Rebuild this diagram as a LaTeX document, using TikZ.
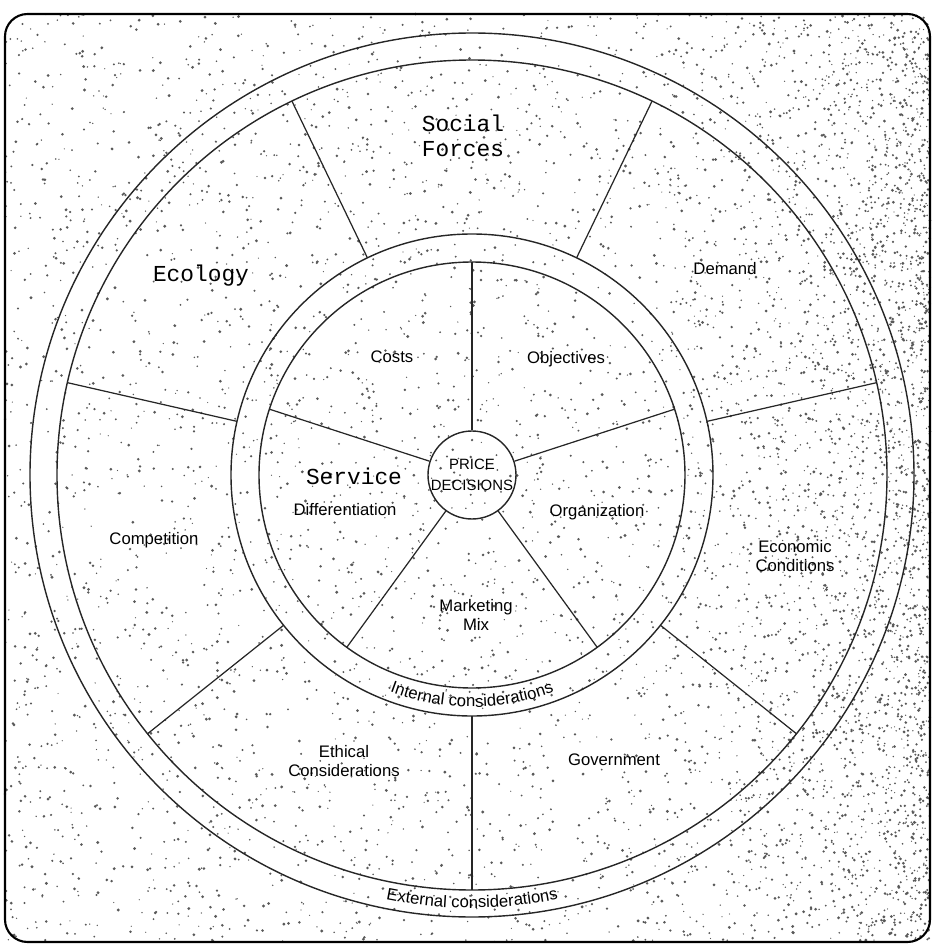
\documentclass[tikz,border=0pt]{standalone}
\usepackage{fontspec}
\setmainfont{Liberation Sans}
\setmonofont{Liberation Mono}
\usetikzlibrary{decorations.text}

\tikzset{
  ring/.style={draw=black!85, line width=0.8pt},
  spoke/.style={draw=black!85, line width=0.7pt},
  speck/.style={fill=black!65},
  lbl/.style={font=\fontsize{9.5}{11}\selectfont, align=center, inner sep=1pt},
  typelbl/.style={font=\ttfamily\fontsize{13}{14.5}\selectfont, align=center, inner sep=1pt},
  bandtext/.style={decorate, decoration={text along path, text align=center,
      text={|\fontsize{9.5}{11}\selectfont|#1}}},
}

\begin{document}
\begin{tikzpicture}[x=0.02cm, y=0.02cm]
    \useasboundingbox (-472,-472) rectangle (464,475);

    % Scan speckle, thicker towards the right edge
    \pgfmathsetseed{4711}
    \foreach \k in {1,...,4200} {
        \fill[speck] ({rnd*925-467},{rnd*928-467}) circle[radius={0.6+rnd*1.0}];
    }
    \foreach \k in {1,...,2400} {
        \fill[speck] ({458-300*rnd*rnd},{rnd*928-467}) circle[radius={0.6+rnd*1.0}];
    }

    % Scanned frame
    \draw[line width=1.2pt, rounded corners=0.45cm] (-467,-467) rectangle (458,461);

    % External considerations band
    \draw[ring] (0,0) circle[radius=442];
    \draw[ring] (0,0) circle[radius=415];

    % Internal considerations band
    \draw[ring] (0,0) circle[radius=241];
    \draw[ring] (0,0) circle[radius=213];

    % Centre
    \node[ring, circle, minimum size=1.76cm, inner sep=0pt, align=center,
          font=\fontsize{8.5}{12}\selectfont] (price) at (0,0) {PRICE\\DECISIONS};

    % Seven outer sectors
    \foreach \i in {0,...,6} {
        \draw[spoke] ({270+\i*360/7}:241) -- ({270+\i*360/7}:415);
    }

    % Five inner sectors
    \foreach \ang in {90,162,234,306,18} {
        \draw[spoke] (price.\ang) -- (\ang:213);
    }

    % Outer labels
    \node[typelbl] (social) at (-9,339) {Social\\Forces};
    \node[typelbl] (ecology) at (-271,199) {Ecology};
    \node[lbl] (demand) at (253,206) {Demand};
    \node[lbl] (economic) at (323,-81) {Economic\\Conditions};
    \node[lbl] (government) at (142,-285) {Government};
    \node[lbl] (ethical) at (-128,-286) {Ethical\\Considerations};
    \node[lbl] (competition) at (-318,-65) {Competition};

    % Inner labels
    \node[lbl] (costs) at (-80,118) {Costs};
    \node[lbl] (objectives) at (94,116) {Objectives};
    \node[typelbl] (service) at (-118,-1) {Service};
    \node[lbl] (differentiation) at (-127,-35) {Differentiation};
    \node[lbl] (organization) at (125,-37) {Organization};
    \node[lbl] (marketing) at (4,-140) {Marketing\\Mix};

    % Curved band captions
    \path[bandtext=Internal considerations] (0,0) ++(239:232)
        arc[start angle=239, end angle=301, radius=232];
    \path[bandtext=External considerations] (0,0) ++(245:433)
        arc[start angle=245, end angle=295, radius=433];
\end{tikzpicture}
\end{document}
